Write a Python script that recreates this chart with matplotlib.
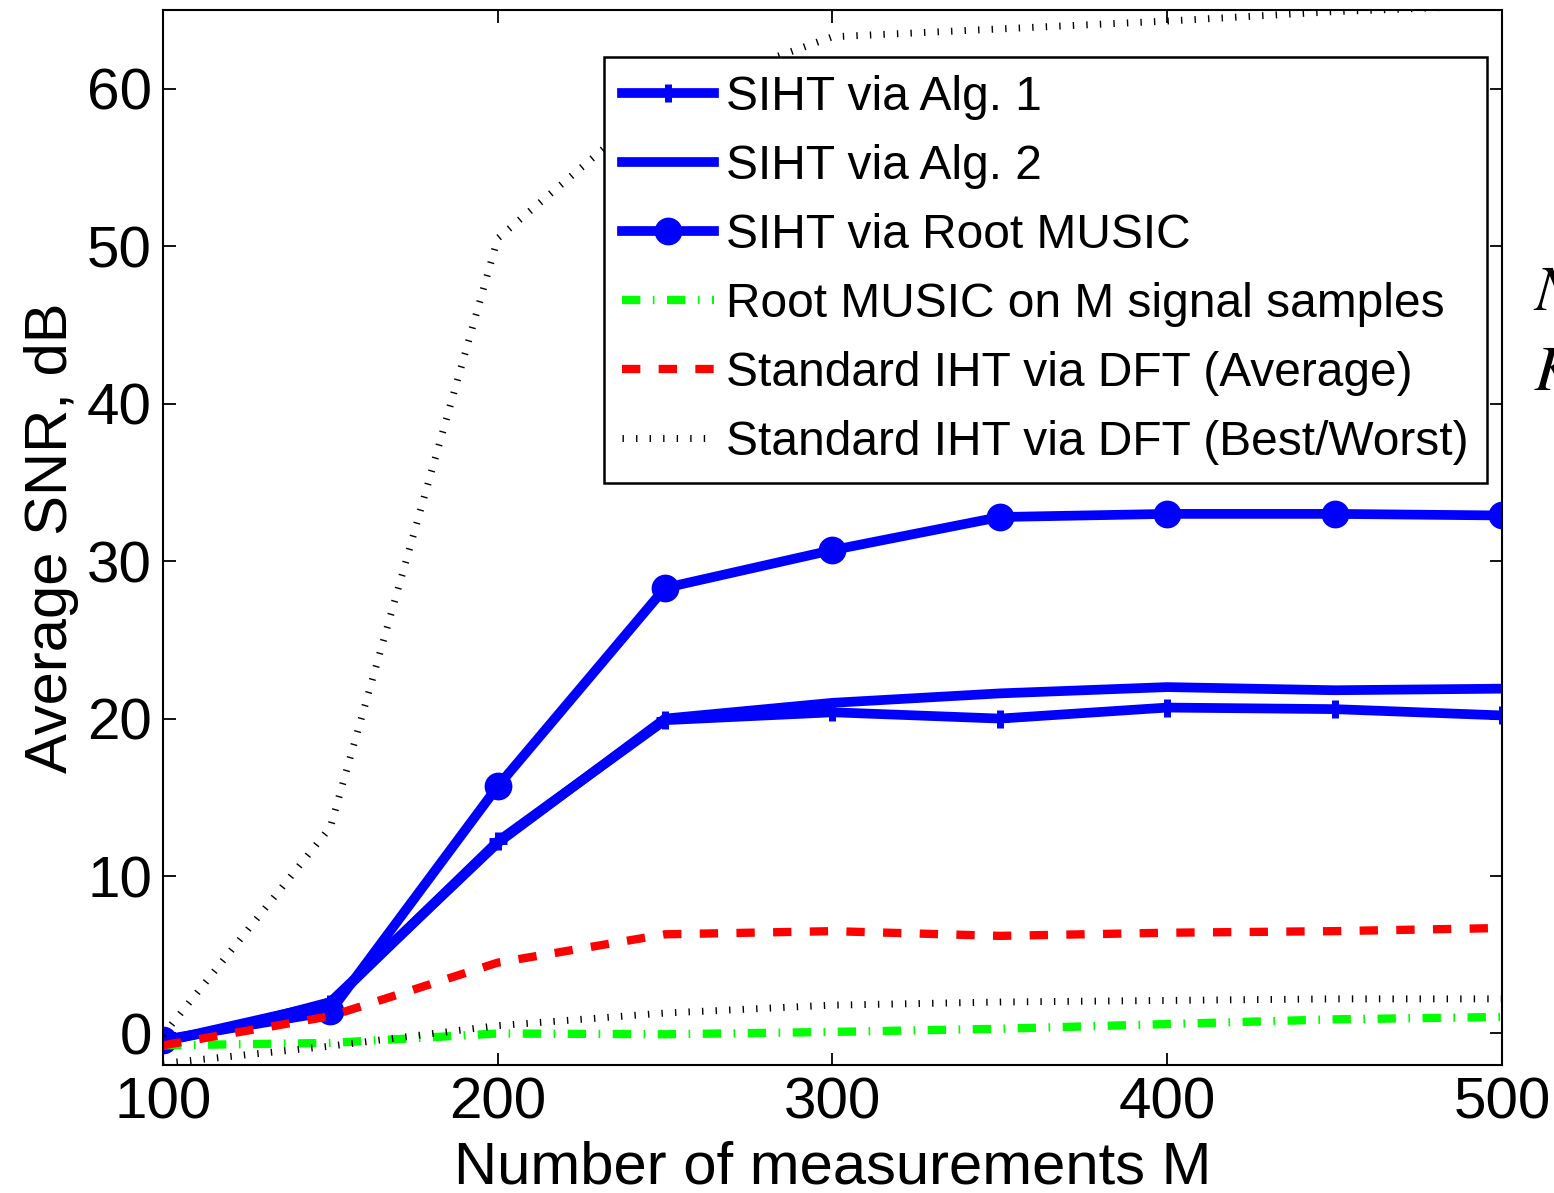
import numpy as np
import matplotlib
matplotlib.use("Agg")
import matplotlib.pyplot as plt

plt.rcParams['font.family'] = ['Liberation Sans', 'DejaVu Sans']
plt.rcParams['mathtext.fontset'] = 'stix'

# number of measurements
M = [100, 150, 200, 250, 300, 350, 400, 450, 500]
M_alg2 = [100, 125, 150, 200, 250, 300, 350, 400, 450, 500]

# average SNR in dB for each method
siht_alg1 = [-0.5, 1.9, 12.2, 19.9, 20.4, 20.0, 20.7, 20.6, 20.2]
siht_alg2 = [-0.5, 0.6, 2.0, 12.1, 20.0, 21.0, 21.6, 22.0, 21.8, 21.9]
siht_music = [-0.4, 1.4, 15.7, 28.3, 30.7, 32.8, 33.0, 33.0, 32.9]
music_only = [-0.75, -0.6, 0.0, -0.05, 0.1, 0.3, 0.6, 0.9, 1.05]
iht_avg = [-0.75, 1.1, 4.5, 6.3, 6.5, 6.2, 6.4, 6.5, 6.7]
iht_best = [-0.1, 13.1, 50.5, 59.5, 63.3, 63.8, 64.3, 64.9, 65.3]
iht_worst = [-1.9, -0.8, 0.5, 1.3, 1.8, 2.0, 2.1, 2.2, 2.2]

labels = ['SIHT via Alg. 1', 'SIHT via Alg. 2', 'SIHT via Root MUSIC',
          'Root MUSIC on M signal samples', 'Standard IHT via DFT (Average)',
          'Standard IHT via DFT (Best/Worst)']

fig = plt.figure(figsize=(15.54, 11.93), dpi=100)
ax = fig.add_axes([0.1049, 0.1073, 0.8616, 0.8843])

ax.plot(M, siht_alg1, color='blue', lw=7, marker='+', ms=13, mew=5,
        label=labels[0])
ax.plot(M_alg2, siht_alg2, color='blue', lw=7, label=labels[1])
ax.plot(M, siht_music, color='blue', lw=7, marker='o', ms=18, mew=2,
        label=labels[2])
ax.plot(M, music_only, color=(0, 1, 0), lw=6, linestyle=(0, (2.2, 1.5, 0.2, 1.5)),
        label=labels[3])
ax.plot(M, iht_avg, color='red', lw=6, linestyle=(0, (2.2, 2.2)), label=labels[4])
ax.plot(M, iht_best, color='black', lw=5, linestyle=(0, (0.2, 1.75)),
        label=labels[5])
ax.plot(M, iht_worst, color='black', lw=5, linestyle=(0, (0.2, 1.75)))

ax.set_xlim(100, 500)
ax.set_ylim(-2, 65)
ax.set_xticks([100, 200, 300, 400, 500])
ax.set_yticks([0, 10, 20, 30, 40, 50, 60])
ax.tick_params(direction='in', length=9, width=1.3, top=True, right=True,
               labelsize=42, pad=8)
for s in ax.spines.values():
    s.set_linewidth(1.5)

ax.set_xlabel('Number of measurements M', fontsize=43, labelpad=0)
ax.set_ylabel('Average SNR, dB', fontsize=43, labelpad=6)
ax.xaxis.set_label_coords(0.5, -0.072)

leg = ax.legend(loc='upper left', bbox_to_anchor=(0.3294, 0.9555),
                fontsize=34.5, handlelength=1.92, handletextpad=0.25,
                labelspacing=0.5, borderpad=0.38, borderaxespad=0,
                fancybox=False, framealpha=1, edgecolor='black')
leg.get_frame().set_linewidth(1.8)

fig.text(1533 / 1554, 1 - 310 / 1193, r'$N$', fontsize=46, ha='left', va='baseline')
fig.text(1533 / 1554, 1 - 390 / 1193, r'$K$', fontsize=46, ha='left', va='baseline')

fig.savefig('out.png', dpi=100)
